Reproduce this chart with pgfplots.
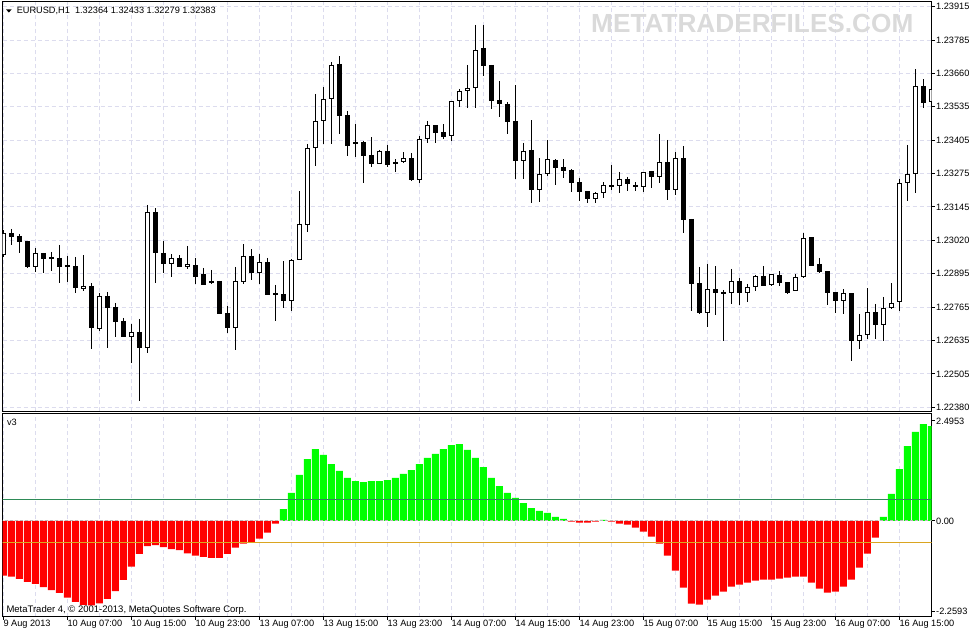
\documentclass[border=0pt]{standalone}
\usepackage{fontspec}
\setmainfont{Liberation Sans}
\usepackage{pgfplots}
\pgfplotsset{compat=1.18}
\usepackage{pgfplotstable}

\definecolor{gridc}{RGB}{220,220,238}
\definecolor{bullg}{RGB}{0,255,0}
\definecolor{bearr}{RGB}{255,0,0}
\definecolor{lvlg}{RGB}{46,139,87}
\definecolor{lvlo}{RGB}{218,165,32}
\definecolor{wmark}{RGB}{218,218,218}
\newcommand\mtfont{\fontsize{9.2}{11}\selectfont}

% EURUSD H1 candles: index, open, high, low, close
\pgfplotstableread{
i o h l c
0 1.22965 1.23061 1.22958 1.23049
1 1.23049 1.23065 1.23004 1.23034
2 1.23038 1.23046 1.22973 1.23015
3 1.23019 1.23019 1.22916 1.22920
4 1.22920 1.22992 1.22900 1.22973
5 1.22973 1.22973 1.22897 1.22950
6 1.22958 1.22977 1.22904 1.22950
7 1.22954 1.23004 1.22858 1.22920
8 1.22927 1.22962 1.22862 1.22920
9 1.22923 1.22958 1.22820 1.22839
10 1.22835 1.22965 1.22828 1.22847
11 1.22847 1.22858 1.22606 1.22686
12 1.22682 1.22820 1.22675 1.22809
13 1.22809 1.22824 1.22610 1.22763
14 1.22767 1.22782 1.22652 1.22709
15 1.22713 1.22725 1.22652 1.22652
16 1.22652 1.22702 1.22553 1.22671
17 1.22671 1.22721 1.22407 1.22610
18 1.22610 1.23157 1.22591 1.23130
19 1.23130 1.23145 1.22858 1.22973
20 1.22973 1.23019 1.22897 1.22931
21 1.22931 1.22969 1.22881 1.22954
22 1.22954 1.22965 1.22920 1.22920
23 1.22920 1.23000 1.22912 1.22931
24 1.22927 1.22954 1.22855 1.22881
25 1.22893 1.22916 1.22851 1.22851
26 1.22858 1.22908 1.22855 1.22866
27 1.22866 1.22866 1.22740 1.22740
28 1.22744 1.22770 1.22667 1.22686
29 1.22686 1.22920 1.22602 1.22866
30 1.22862 1.23007 1.22855 1.22962
31 1.22962 1.22988 1.22870 1.22897
32 1.22897 1.22969 1.22855 1.22939
33 1.22939 1.22954 1.22812 1.22812
34 1.22820 1.22851 1.22713 1.22812
35 1.22816 1.22942 1.22763 1.22790
36 1.22790 1.22950 1.22751 1.22946
37 1.22946 1.23210 1.22946 1.23084
38 1.23080 1.23390 1.23053 1.23374
39 1.23374 1.23581 1.23306 1.23478
40 1.23478 1.23608 1.23390 1.23562
41 1.23562 1.23703 1.23390 1.23692
42 1.23696 1.23726 1.23428 1.23497
43 1.23501 1.23516 1.23344 1.23382
44 1.23390 1.23466 1.23340 1.23397
45 1.23397 1.23401 1.23241 1.23344
46 1.23348 1.23416 1.23302 1.23313
47 1.23313 1.23367 1.23313 1.23363
48 1.23363 1.23386 1.23302 1.23309
49 1.23321 1.23332 1.23283 1.23313
50 1.23321 1.23359 1.23317 1.23336
51 1.23336 1.23355 1.23248 1.23252
52 1.23252 1.23420 1.23241 1.23409
53 1.23409 1.23478 1.23394 1.23462
54 1.23462 1.23462 1.23394 1.23432
55 1.23436 1.23466 1.23409 1.23416
56 1.23420 1.23554 1.23401 1.23554
57 1.23554 1.23600 1.23531 1.23592
58 1.23592 1.23692 1.23527 1.23604
59 1.23604 1.23845 1.23527 1.23749
60 1.23757 1.23845 1.23650 1.23688
61 1.23692 1.23692 1.23524 1.23554
62 1.23558 1.23631 1.23493 1.23543
63 1.23543 1.23550 1.23428 1.23474
64 1.23478 1.23615 1.23256 1.23325
65 1.23325 1.23394 1.23256 1.23363
66 1.23367 1.23481 1.23164 1.23214
67 1.23214 1.23336 1.23168 1.23275
68 1.23275 1.23405 1.23267 1.23332
69 1.23329 1.23332 1.23233 1.23298
70 1.23302 1.23332 1.23260 1.23287
71 1.23290 1.23294 1.23206 1.23241
72 1.23244 1.23260 1.23172 1.23206
73 1.23210 1.23210 1.23164 1.23179
74 1.23179 1.23206 1.23164 1.23202
75 1.23202 1.23244 1.23183 1.23233
76 1.23233 1.23309 1.23214 1.23225
77 1.23229 1.23283 1.23202 1.23256
78 1.23256 1.23264 1.23210 1.23237
79 1.23233 1.23244 1.23210 1.23225
80 1.23225 1.23283 1.23206 1.23283
81 1.23287 1.23287 1.23222 1.23264
82 1.23264 1.23428 1.23241 1.23321
83 1.23321 1.23405 1.23176 1.23214
84 1.23214 1.23359 1.23195 1.23336
85 1.23336 1.23382 1.23049 1.23099
86 1.23103 1.23103 1.22751 1.22855
87 1.22858 1.22920 1.22740 1.22744
88 1.22744 1.22931 1.22690 1.22835
89 1.22835 1.22923 1.22736 1.22820
90 1.22824 1.22832 1.22637 1.22816
91 1.22820 1.22912 1.22778 1.22866
92 1.22866 1.22877 1.22774 1.22820
93 1.22820 1.22855 1.22786 1.22843
94 1.22843 1.22889 1.22828 1.22885
95 1.22885 1.22923 1.22847 1.22847
96 1.22851 1.22893 1.22847 1.22893
97 1.22889 1.22904 1.22847 1.22858
98 1.22862 1.22862 1.22816 1.22820
99 1.22828 1.22893 1.22828 1.22881
100 1.22881 1.23049 1.22877 1.23030
101 1.23034 1.23034 1.22923 1.22923
102 1.22931 1.22954 1.22897 1.22900
103 1.22904 1.22904 1.22774 1.22820
104 1.22824 1.22824 1.22744 1.22790
105 1.22790 1.22835 1.22740 1.22820
106 1.22820 1.22820 1.22560 1.22637
107 1.22637 1.22740 1.22606 1.22660
108 1.22660 1.22839 1.22644 1.22747
109 1.22747 1.22778 1.22644 1.22698
110 1.22698 1.22805 1.22637 1.22763
111 1.22763 1.22858 1.22759 1.22782
112 1.22786 1.23256 1.22751 1.23241
113 1.23241 1.23386 1.23172 1.23275
114 1.23275 1.23676 1.23202 1.23611
115 1.23611 1.23638 1.23527 1.23546
116 1.23550 1.23642 1.23520 1.23600
}\candles

% v3 oscillator
\pgfplotstableread{
i v
0 -1.364
1 -1.389
2 -1.447
3 -1.522
4 -1.572
5 -1.647
6 -1.722
7 -1.796
8 -1.913
9 -2.021
10 -2.096
11 -2.104
12 -2.054
13 -1.946
14 -1.747
15 -1.472
16 -1.139
17 -0.823
18 -0.624
19 -0.599
20 -0.649
21 -0.699
22 -0.724
23 -0.807
24 -0.865
25 -0.898
26 -0.923
27 -0.923
28 -0.823
29 -0.665
30 -0.566
31 -0.541
32 -0.441
33 -0.291
34 -0.067
35 0.299
36 0.699
37 1.148
38 1.547
39 1.796
40 1.647
41 1.422
42 1.248
43 1.073
44 0.998
45 0.973
46 0.998
47 0.998
48 1.023
49 1.073
50 1.173
51 1.272
52 1.422
53 1.572
54 1.672
55 1.796
56 1.896
57 1.921
58 1.772
59 1.572
60 1.347
61 1.073
62 0.873
63 0.699
64 0.574
65 0.449
66 0.324
67 0.250
68 0.200
69 0.100
70 0.050
71 -0.017
72 -0.042
73 -0.042
74 -0.017
75 0.025
76 -0.017
77 -0.067
78 -0.091
79 -0.166
80 -0.266
81 -0.391
82 -0.566
83 -0.865
84 -1.239
85 -1.663
86 -2.063
87 -2.088
88 -1.963
89 -1.863
90 -1.763
91 -1.638
92 -1.589
93 -1.539
94 -1.489
95 -1.464
96 -1.464
97 -1.439
98 -1.414
99 -1.389
100 -1.389
101 -1.539
102 -1.688
103 -1.788
104 -1.763
105 -1.638
106 -1.464
107 -1.164
108 -0.815
109 -0.416
110 0.100
111 0.674
112 1.297
113 1.871
114 2.221
115 2.420
116 2.370
}\osc

\pgfplotsset{
  mtpanel/.style={
    scale only axis, width=928.8pt, anchor=south west,
    xmin=-0.075, xmax=116.025,
    axis line style={line width=1pt},
    tick align=outside, major tick length=3pt, minor tick length=0pt,
    every tick/.style={black, line width=1pt},
    ytick pos=right, yticklabel pos=right,
    tick label style={font=\mtfont},
    yticklabel style={anchor=west, inner sep=0pt, xshift=1.5pt},
    major grid style={gridc, line width=1pt, dash pattern=on 4pt off 3pt},
    minor grid style={gridc, line width=1pt, dash pattern=on 4pt off 3pt},
  },
  candle/.style={draw=none, mark=none, forget plot,
    error bars/y dir=minus, error bars/y explicit,
    error bars/error mark=none,
    error bars/error bar style={#1}},
}

\begin{document}
\begin{tikzpicture}
\path[use as bounding box] (0pt,0pt) rectangle (975pt,635pt);

\begin{axis}[mtpanel, height=409.5pt, at={(2.7pt,223.5pt)},
  ymin=1.223670, ymax=1.239326,
  xtick={0,4,...,116}, xticklabels={}, xtick style={draw=none},
  ytick={1.239150,1.237873,1.236596,1.235319,1.234042,1.232766,1.231489,
         1.230212,1.228935,1.227658,1.226381,1.225104,1.223827},
  yticklabels={1.23915,1.23785,1.23660,1.23535,1.23405,1.23275,1.23145,
               1.23020,1.22895,1.22765,1.22635,1.22505,1.22380},
  xmajorgrids, ymajorgrids]
  % wicks
  \addplot[candle={draw=black, line width=1pt}]
    table[x=i, y=h, y error minus expr={\thisrow{h}-\thisrow{l}}] {\candles};
  % bodies
  \addplot[candle={draw=black, line width=5pt}]
    table[x=i, y expr={max(\thisrow{o},\thisrow{c})},
          y error minus expr={abs(\thisrow{o}-\thisrow{c})}] {\candles};
  % hollow inside of rising candles
  \addplot[restrict expr to domain={\thisrow{c}-\thisrow{o}}{0.0001:1},
    candle={draw=white, line width=3pt, shorten <=1pt, shorten >=1pt}]
    table[x=i, y=c, y error minus expr={\thisrow{c}-\thisrow{o}}] {\candles};
\end{axis}

\begin{axis}[mtpanel, height=202.7pt, at={(2.7pt,18.3pt)},
  ymin=-2.388, ymax=2.670,
  xtick pos=left,
  xtick={0,8,...,112}, minor xtick={4,12,...,116},
  xticklabels={9 Aug 2013,10 Aug 07:00,10 Aug 15:00,10 Aug 23:00,
    13 Aug 07:00,13 Aug 15:00,13 Aug 23:00,14 Aug 07:00,14 Aug 15:00,
    14 Aug 23:00,15 Aug 07:00,15 Aug 15:00,15 Aug 23:00,16 Aug 07:00,
    16 Aug 15:00},
  xticklabel style={anchor=north west, inner sep=0pt},
  ytick={-2.2593,0,2.4953}, yticklabels={-2.2593,0.00,2.4953},
  xmajorgrids, xminorgrids]
  \addplot[ybar, bar width=7pt, bar shift=0pt, fill=bearr, draw=none,
    restrict y to domain=-10:0] table[x=i, y=v] {\osc};
  \addplot[ybar, bar width=7pt, bar shift=0pt, fill=bullg, draw=none,
    restrict y to domain=0:10] table[x=i, y=v] {\osc};
  \addplot[lvlg, line width=1pt] coordinates {(-1,0.541) (117,0.541)};
  \addplot[lvlo, line width=1pt] coordinates {(-1,-0.531) (117,-0.531)};
  \addplot[gray!55, line width=1pt, dash pattern=on 3pt off 2pt]
    coordinates {(-1,0) (117,0)};
\end{axis}

% labels drawn by the terminal
\fill (6pt,625.7pt) -- (11.7pt,625.7pt) -- (8.85pt,622.4pt) -- cycle;
\node[anchor=base west, inner sep=0pt, font=\mtfont] at (16.6pt,621pt)
  {EURUSD,H1\ \ 1.32364 1.32433 1.32279 1.32383};
\node[anchor=base west, inner sep=0pt, text=wmark,
  font=\fontsize{26.2}{30}\selectfont\bfseries] at (591pt,602pt) {METATRADERFILES.COM};
\node[anchor=base west, inner sep=0pt, font=\mtfont] at (6.8pt,209pt) {v3};
\node[anchor=base west, inner sep=0pt, font=\fontsize{9.5}{11}\selectfont]
  at (6.3pt,22.3pt) {MetaTrader 4, © 2001-2013, MetaQuotes Software Corp.};
\end{tikzpicture}
\end{document}
